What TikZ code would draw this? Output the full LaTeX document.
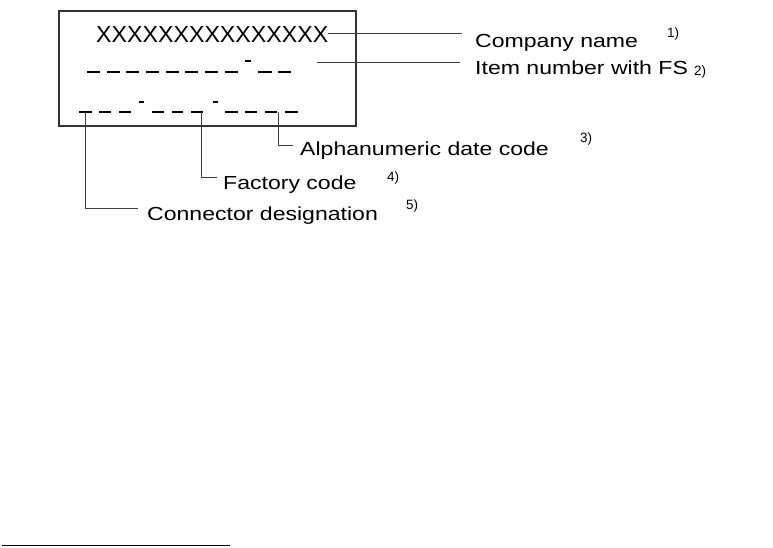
\documentclass[tikz,border=0pt]{standalone}
\usepackage{fontspec}
\setmainfont{Liberation Sans}
\newfontfamily\labfont[FakeStretch=1.22]{Liberation Sans}
\begin{document}
\begin{tikzpicture}[x=1pt,y=-1pt,
  lab/.style={anchor=base west,inner sep=0pt,font=\labfont\fontsize{18.9}{20}\selectfont},
  fn/.style={anchor=base west,inner sep=0pt,font=\fontsize{13.5}{14}\selectfont},
  dsh/.style={line width=2.8pt,black},
  rdsh/.style={line width=2.4pt,black},
  leader/.style={line width=1pt,black!75},
  frame/.style={line width=1.3pt,black!80}]
\useasboundingbox (0,0) rectangle (773,547);
% frame
\draw[frame] (59,11) rectangle (356,126);
% company placeholder
\node[anchor=base west,inner sep=0pt,font=\fontsize{23.2}{24}\selectfont] (xx) at (96,42) {XXXXXXXXXXXXXXX};
% row 1 dashes
\foreach \a in {87,106.5,126,146,165.5,185,205,224.5}{\draw[dsh] (\a,72) -- (\a+13,72);}
\draw[rdsh] (245,61) -- (251,61);
\draw[dsh] (258,72) -- (272,72);
\draw[dsh] (278,72) -- (291,72);
% row 2 dashes
\foreach \a/\b in {79/92,99/111,119/131,152/164,172/183,191/203,225/238,245/257,265/277,285/298}{\draw[dsh] (\a,112) -- (\b,112);}
\draw[rdsh] (139,102) -- (143.5,102);
\draw[rdsh] (213,102) -- (217.5,102);
% labels
\node[lab] (l1) at (475,47) {Company name};
\node[lab] (l2) at (475,74) {Item number with FS};
\node[lab] (l3) at (300,155) {Alphanumeric date code};
\node[lab] (l4) at (223,189) {Factory code};
\node[lab] (l5) at (147,220) {Connector designation};
\node[fn] (f1) at (667,37) {1)};
\node[fn] (f2) at (694,75) {2)};
\node[fn] (f3) at (580,142) {3)};
\node[fn] (f4) at (387,181) {4)};
\node[fn] (f5) at (406,209) {5)};
% anchor points
\coordinate (c1a) at (328,33);
\coordinate (c1b) at (462,33);
\coordinate (c2a) at (317,62);
\coordinate (c2b) at (460,62);
\coordinate (d5) at (85.5,112);
\coordinate (e5) at (138,208);
\coordinate (d4) at (201,112);
\coordinate (e4) at (217,177);
\coordinate (d3) at (278.5,112);
\coordinate (e3) at (293,145);
% leaders
\draw[leader] (c1a) -- (c1b);
\draw[leader] (c2a) -- (c2b);
\draw[leader] (d5) |- (e5);
\draw[leader] (d4) |- (e4);
\draw[leader] (d3) |- (e3);
% footnote rule
\coordinate (r1) at (2,545.5);
\coordinate (r2) at (230,545.5);
\draw[line width=1.3pt] (r1) -- (r2);
\end{tikzpicture}
\end{document}
